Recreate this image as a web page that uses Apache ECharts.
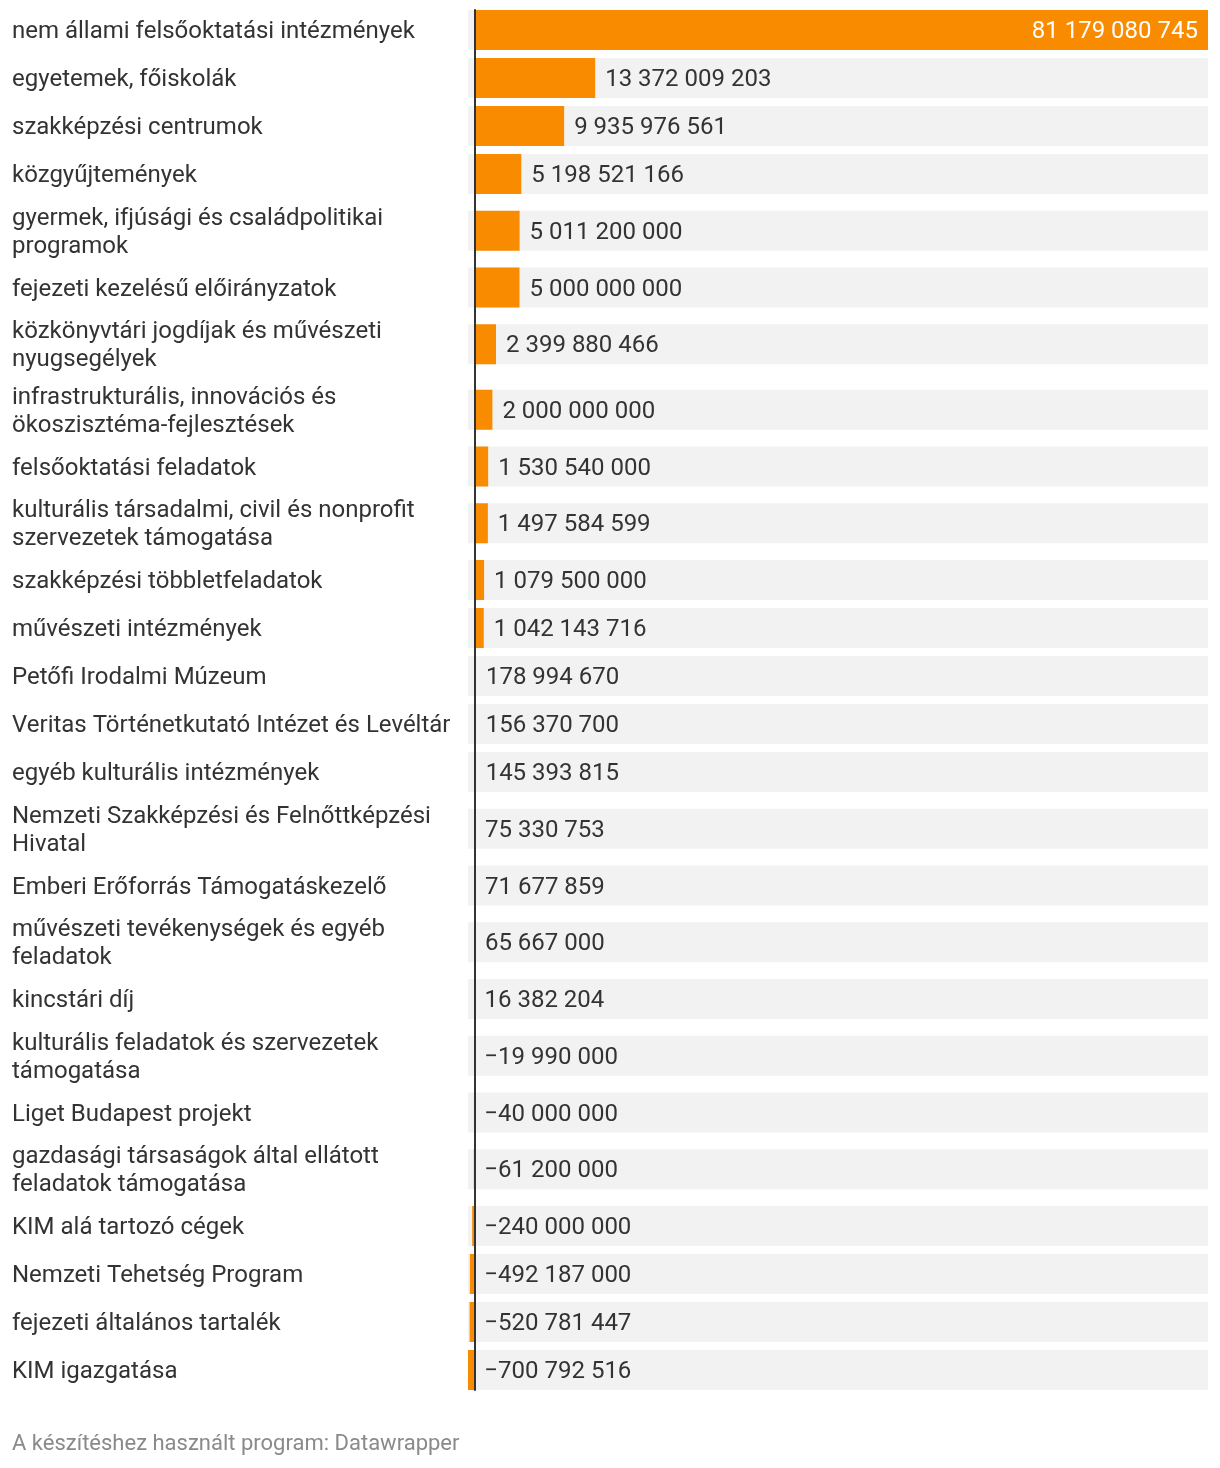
<!DOCTYPE html>
<html><head><meta charset="utf-8">
<script src="https://cdn.jsdelivr.net/npm/echarts@6/dist/echarts.min.js"></script>
<style>html,body{margin:0;padding:0;background:#fff}#chart{width:1220px;height:1468px}</style>
</head><body><div id="chart"></div>
<script>
const categories = [
  'nem állami felsőoktatási intézmények',
  'egyetemek, főiskolák',
  'szakképzési centrumok',
  'közgyűjtemények',
  'gyermek, ifjúsági és családpolitikai programok',
  'fejezeti kezelésű előirányzatok',
  'közkönyvtári jogdíjak és művészeti nyugsegélyek',
  'infrastrukturális, innovációs és ökoszisztéma-fejlesztések',
  'felsőoktatási feladatok',
  'kulturális társadalmi, civil és nonprofit szervezetek támogatása',
  'szakképzési többletfeladatok',
  'művészeti intézmények',
  'Petőfi Irodalmi Múzeum',
  'Veritas Történetkutató Intézet és Levéltár',
  'egyéb kulturális intézmények',
  'Nemzeti Szakképzési és Felnőttképzési Hivatal',
  'Emberi Erőforrás Támogatáskezelő',
  'művészeti tevékenységek és egyéb feladatok',
  'kincstári díj',
  'kulturális feladatok és szervezetek támogatása',
  'Liget Budapest projekt',
  'gazdasági társaságok által ellátott feladatok támogatása',
  'KIM alá tartozó cégek',
  'Nemzeti Tehetség Program',
  'fejezeti általános tartalék',
  'KIM igazgatása'
];
const values = [
  81179080745, 13372009203, 9935976561, 5198521166, 5011200000, 5000000000,
  2399880466, 2000000000, 1530540000, 1497584599, 1079500000, 1042143716,
  178994670, 156370700, 145393815, 75330753, 71677859, 65667000, 16382204,
  -19990000, -40000000, -61200000, -240000000, -492187000, -520781447, -700792516
];
const footerText = 'A készítéshez használt program: Datawrapper';

const FONT = 'Roboto, sans-serif';
const ORANGE = '#f98b00';
const TEXT = '#333333';
const LABEL_SIZE = 24, LABEL_W = 452, LINE_H = 28;

function fmt(v) {
  const s = Math.abs(v).toString().replace(/\B(?=(\d{3})+(?!\d))/g, '\u00a0');
  return (v < 0 ? '\u2212' : '') + s;
}
const ctx = document.createElement('canvas').getContext('2d');
ctx.font = LABEL_SIZE + 'px Roboto';
function wrap(t) {
  const words = t.split(' ');
  const lines = [];
  let cur = '';
  for (const w of words) {
    const test = cur ? cur + ' ' + w : w;
    if (ctx.measureText(test).width > LABEL_W && cur) { lines.push(cur); cur = w; } else cur = test;
  }
  lines.push(cur);
  return lines.join('\n');
}

const ROW1 = 48, EXTRA = 17.5, TOP0 = 6, BARW = 40;
const minV = Math.min(...values), maxV = Math.max(...values);
const grids = [], xAxes = [], yAxes = [], series = [];
let y = TOP0;
categories.forEach((c, i) => {
  const nLines = wrap(c).split('\n').length;
  const h = ROW1 + (nLines - 1) * EXTRA;
  grids.push({ left: 468, right: 12, top: y, height: h });
  y += h;
  xAxes.push({ type: 'value', gridIndex: i, min: minV, max: maxV, show: false });
  yAxes.push({
    type: 'category', gridIndex: i, data: [c],
    axisLine: { show: false }, axisTick: { show: false }, splitLine: { show: false },
    axisLabel: {
      align: 'left', verticalAlign: 'top', margin: 456, formatter: (v) => wrap(v),
      fontSize: LABEL_SIZE, lineHeight: LINE_H, color: TEXT, fontFamily: FONT,
      padding: [-(nLines * LINE_H) / 2 + 2, 0, 0, 0]
    }
  });
  const inside = values[i] > 0.5 * maxV;
  series.push({
    type: 'bar', xAxisIndex: i, yAxisIndex: i, data: [values[i]], barWidth: BARW, barGap: '-100%',
    showBackground: true, backgroundStyle: { color: '#f2f2f2' },
    itemStyle: { color: ORANGE }, silent: true, animation: false
  });
  series.push({
    type: 'bar', xAxisIndex: i, yAxisIndex: i, data: [Math.max(values[i], 0)], barWidth: BARW, barGap: '-100%',
    itemStyle: { color: 'rgba(0,0,0,0)' }, silent: true, animation: false,
    label: {
      show: true, position: inside ? 'insideRight' : 'right', distance: 10, offset: [0, 2],
      formatter: () => fmt(values[i]),
      color: inside ? '#ffffff' : TEXT, fontSize: LABEL_SIZE, fontFamily: FONT
    }
  });
});
// zero axis line spanning all bars
const n = categories.length;
const lineTop = TOP0 + (ROW1 - BARW) / 2;
const lineBottom = y - (ROW1 - BARW) / 2;
grids.push({ left: 468, right: 12, top: lineTop, height: lineBottom - lineTop });
xAxes.push({ type: 'value', gridIndex: n, min: minV, max: maxV, show: false });
yAxes.push({
  type: 'category', gridIndex: n, data: [''], z: 10,
  axisLine: { show: true, onZero: true, lineStyle: { color: '#333333', width: 2 } },
  axisTick: { show: false }, axisLabel: { show: false }, splitLine: { show: false }
});

const chart = echarts.init(document.getElementById('chart'), null, { renderer: 'canvas' });
chart.setOption({
  animation: false,
  backgroundColor: '#ffffff',
  title: {
    text: footerText, left: 12, top: 1431, padding: 0,
    textStyle: { fontSize: 22, fontWeight: 'normal', color: '#8a8a8a', fontFamily: FONT, lineHeight: 26 }
  },
  grid: grids, xAxis: xAxes, yAxis: yAxes, series: series
});
</script>
</body></html>
